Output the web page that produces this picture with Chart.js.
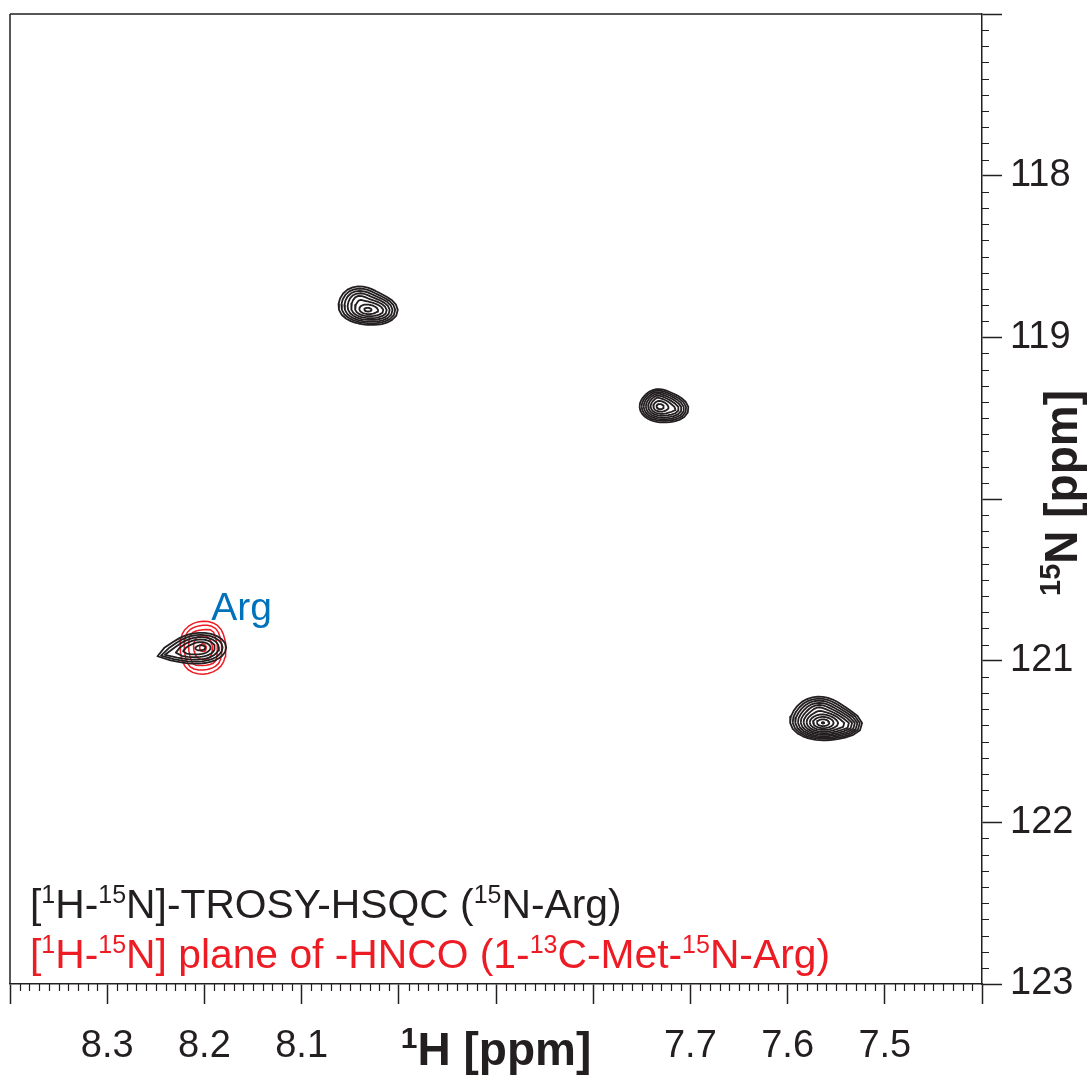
<!DOCTYPE html>
<html>
<head>
<meta charset="utf-8">
<script src="https://cdn.jsdelivr.net/npm/chart.js@4.4.1/dist/chart.umd.min.js"></script>
<style>
  html, body { margin: 0; padding: 0; background: #ffffff; }
  #wrap { width: 1090px; height: 1076px; }
</style>
</head>
<body>
<div id="wrap"><canvas id="spec" width="1090" height="1076"></canvas></div>
<script>
// ---------------------------------------------------------------
// Spectral window (ppm)
const hMin = 7.4, hMax = 8.4;      // 1H, drawn high -> low
const nMin = 117, nMax = 123;      // 15N, drawn low -> high (top -> bottom)

// Axis ticks
const hMajorTicks = [8.4, 8.3, 8.2, 8.1, 8.0, 7.9, 7.8, 7.7, 7.6, 7.5, 7.4];
const hTickLabels = ['', '8.3', '8.2', '8.1', '', '', '', '7.7', '7.6', '7.5', ''];
const nMajorTicks = [117, 118, 119, 120, 121, 122, 123];
const nTickLabels = ['', '118', '119', '', '121', '122', '123'];

// Line-shape exponent of the peak model (1 = Gaussian, smaller = broader wings)
const lineShape = 0.65;

// TROSY-HSQC (15N-Arg): peak maxima
const hsqcPeakH = [8.032, 7.7315, 7.5636, 8.2025];
const hsqcPeakN = [118.830, 119.430, 121.385, 120.918];
// line components building each peak (peak index, shifts, widths, height)
const hsqcCompPeak = [0, 0, 0, 1, 1, 1, 2, 2, 2, 3, 3, 3];
const hsqcCompH    = [8.032, 8.041, 8.018, 7.7315, 7.716, 7.734, 7.5636, 7.540, 7.568, 8.2025, 8.218, 8.238];
const hsqcCompN    = [118.830, 118.760, 118.840, 119.430, 119.445, 119.375, 121.385, 121.400, 121.300, 120.918, 120.940, 120.960];
const hsqcWidthH   = [0.0102, 0.0102, 0.0085, 0.0078, 0.0078, 0.0055, 0.0098, 0.0078, 0.0110, 0.0125, 0.0110, 0.0120];
const hsqcWidthN   = [0.033, 0.046, 0.038, 0.034, 0.035, 0.031, 0.032, 0.028, 0.043, 0.045, 0.035, 0.025];
const hsqcHeight   = [8.0, 3.0, 2.0, 9.0, 3.0, 1.8, 20.0, 3.5, 3.5, 4.5, 1.8, 1.4];
const hsqcLevels   = [1.0, 1.35, 1.82, 2.46, 3.32, 4.48, 6.05, 8.17, 11.0, 14.9, 20.1];

// [1H-15N] plane of HNCO (1-13C-Met-15N-Arg)
const hncoPeakH = [8.2015];
const hncoPeakN = [120.920];
const hncoCompPeak = [0, 0, 0, 0, 0];
const hncoCompH    = [8.2015, 8.193, 8.212, 8.191, 8.211];
const hncoCompN    = [120.920, 120.820, 120.840, 121.000, 121.020];
const hncoWidthH   = [0.0135, 0.0060, 0.0060, 0.0060, 0.0060];
const hncoWidthN   = [0.092, 0.030, 0.030, 0.030, 0.030];
const hncoHeight   = [3.6, 0.45, 0.4, 0.45, 0.4];
const hncoLevels   = [1.0, 1.35, 1.82, 2.46, 3.32];

// ---------------------------------------------------------------
const INK = '#231f20';
const RED = '#ed1c24';
const BLUE = '#0072bc';
const FONT = '"Liberation Sans", Arial, Helvetica, sans-serif';

function intensity(spec, peak, h, n) {
  let s = 0;
  for (let i = 0; i < spec.compPeak.length; i++) {
    if (spec.compPeak[i] !== peak) continue;
    const a = (h - spec.compH[i]) / spec.widthH[i];
    const b = (n - spec.compN[i]) / spec.widthN[i];
    s += spec.height[i] * Math.exp(-Math.pow(0.5 * (a * a + b * b), lineShape));
  }
  return s;
}

// Trace one contour level around a peak maximum by walking rays outwards
function traceContour(spec, peak, level) {
  const h0 = spec.peakH[peak], n0 = spec.peakN[peak];
  const uH = 0.01, uN = 0.06, rays = 32;
  const pts = [];
  for (let k = 0; k < rays; k++) {
    const t = 2 * Math.PI * k / rays;
    const dx = Math.cos(t), dy = Math.sin(t);
    const f = r => intensity(spec, peak, h0 + dx * r * uH, n0 + dy * r * uN);
    let r = 0, step = 0.05;
    while (r < 15 && f(r) >= level) r += step;
    let lo = Math.max(0, r - step), hi = r;
    for (let it = 0; it < 25; it++) {
      const mid = 0.5 * (lo + hi);
      if (f(mid) >= level) lo = mid; else hi = mid;
    }
    const rr = 0.5 * (lo + hi);
    pts.push({ x: h0 + dx * rr * uH, y: n0 + dy * rr * uN });
  }
  pts.push({ x: pts[0].x, y: pts[0].y });
  return pts;
}

function contourDatasets(spec, color, width) {
  const out = [];
  for (let p = 0; p < spec.peakH.length; p++) {
    const top = intensity(spec, p, spec.peakH[p], spec.peakN[p]);
    spec.levels.forEach(lv => {
      if (lv >= top) return;
      out.push({
        data: traceContour(spec, p, lv),
        showLine: true, fill: false, tension: 0,
        borderColor: color, borderWidth: width, borderJoinStyle: 'round',
        pointRadius: 0, pointHoverRadius: 0
      });
    });
  }
  return out;
}

const hsqc = { peakH: hsqcPeakH, peakN: hsqcPeakN, compPeak: hsqcCompPeak, compH: hsqcCompH,
  compN: hsqcCompN, widthH: hsqcWidthH, widthN: hsqcWidthN, height: hsqcHeight, levels: hsqcLevels };
const hnco = { peakH: hncoPeakH, peakN: hncoPeakN, compPeak: hncoCompPeak, compH: hncoCompH,
  compN: hncoCompN, widthH: hncoWidthH, widthN: hncoWidthN, height: hncoHeight, levels: hncoLevels };

const datasets = [
  ...contourDatasets(hsqc, INK, 1.8),
  ...contourDatasets(hnco, RED, 1.5)
];

// Text with superscript runs: parts = [[text, isSup], ...]
function richWidth(ctx, parts, size, weight, supRatio) {
  let w = 0;
  parts.forEach(([t, sup]) => {
    ctx.font = `${weight} ${sup ? Math.round(size * supRatio) : size}px ${FONT}`;
    w += ctx.measureText(t).width;
  });
  return w;
}
function drawRich(ctx, parts, x, y, size, weight, color, supRatio) {
  ctx.fillStyle = color;
  ctx.textBaseline = 'alphabetic';
  ctx.textAlign = 'left';
  let cx = x;
  parts.forEach(([t, sup]) => {
    ctx.font = `${weight} ${sup ? Math.round(size * supRatio) : size}px ${FONT}`;
    ctx.fillText(t, cx, sup ? y - size * 0.36 : y);
    cx += ctx.measureText(t).width;
  });
}

const decorations = {
  id: 'decorations',
  afterDraw(chart) {
    const { ctx, chartArea: a, scales } = chart;
    const xs = scales.x, ys = scales.y;
    ctx.save();
    ctx.strokeStyle = INK;
    ctx.lineWidth = 1.5;
    // frame: top and left edges
    ctx.beginPath();
    ctx.moveTo(a.left, a.top); ctx.lineTo(a.right, a.top);
    ctx.moveTo(a.left, a.top); ctx.lineTo(a.left, a.bottom);
    ctx.stroke();
    // minor ticks
    ctx.lineWidth = 1.2;
    ctx.beginPath();
    for (let i = 1; i < 100; i++) {
      if (i % 10 === 0) continue;
      const px = Math.round(xs.getPixelForValue(hMin + i / 100)) + 0.5;
      ctx.moveTo(px, a.bottom); ctx.lineTo(px, a.bottom + 7);
    }
    for (let i = 1; i < 60; i++) {
      if (i % 10 === 0) continue;
      const py = Math.round(ys.getPixelForValue(nMin + i / 10)) + 0.5;
      ctx.moveTo(a.right, py); ctx.lineTo(a.right + 7, py);
    }
    ctx.stroke();

    // axis titles
    const tSize = 46;
    const xTitle = [['1', true], ['H [ppm]', false]];
    const xw = richWidth(ctx, xTitle, tSize, 'bold', 0.66);
    drawRich(ctx, xTitle, (a.left + a.right) / 2 - xw / 2, 1065, tSize, 'bold', INK, 0.66);

    const yTitle = [['15', true], ['N [ppm]', false]];
    const yw = richWidth(ctx, yTitle, tSize, 'bold', 0.62);
    ctx.save();
    ctx.translate(1077, (a.top + a.bottom) / 2 - 6);
    ctx.rotate(-Math.PI / 2);
    drawRich(ctx, yTitle, -yw / 2, 0, tSize, 'bold', INK, 0.62);
    ctx.restore();

    // spectrum key
    const kSize = 40.8;
    drawRich(ctx, [['[', false], ['1', true], ['H-', false], ['15', true], ['N]-TROSY-HSQC (', false], ['15', true], ['N-Arg)', false]],
      a.left + 20, 918, kSize, 'normal', INK, 0.62);
    drawRich(ctx, [['[', false], ['1', true], ['H-', false], ['15', true], ['N] plane of -HNCO (1-', false], ['13', true], ['C-Met-', false], ['15', true], ['N-Arg)', false]],
      a.left + 20, 968, kSize, 'normal', RED, 0.62);

    // residue label
    ctx.font = `normal 39px ${FONT}`;
    ctx.fillStyle = BLUE;
    ctx.textAlign = 'left';
    ctx.textBaseline = 'alphabetic';
    ctx.fillText('Arg', xs.getPixelForValue(8.193), ys.getPixelForValue(120.75));
    ctx.restore();
  }
};

function noPad(s) { s.paddingTop = 0; s.paddingBottom = 0; s.paddingLeft = 0; s.paddingRight = 0; }

new Chart(document.getElementById('spec'), {
  type: 'scatter',
  data: { datasets },
  options: {
    responsive: false,
    animation: false,
    devicePixelRatio: 1,
    layout: { padding: { left: 10, top: 14, right: 0, bottom: 0 } },
    plugins: { legend: { display: false }, tooltip: { enabled: false } },
    scales: {
      x: {
        type: 'linear', min: hMin, max: hMax, reverse: true, position: 'bottom',
        afterBuildTicks: s => { s.ticks = hMajorTicks.map(v => ({ value: v })); },
        afterFit: s => { s.height = 92; noPad(s); },
        grid: { drawOnChartArea: false, drawTicks: true, tickLength: 20, tickColor: INK, tickWidth: 1.5 },
        border: { display: true, color: INK, width: 1.5 },
        ticks: {
          autoSkip: false, maxRotation: 0, minRotation: 0, padding: 20,
          color: INK, font: { family: FONT, size: 38 },
          callback: (v) => { const i = hMajorTicks.findIndex(t => Math.abs(t - v) < 1e-6); return i >= 0 ? hTickLabels[i] : ''; }
        }
      },
      y: {
        type: 'linear', min: nMin, max: nMax, reverse: true, position: 'right',
        afterBuildTicks: s => { s.ticks = nMajorTicks.map(v => ({ value: v })); },
        afterFit: s => { s.width = 108; noPad(s); },
        grid: { drawOnChartArea: false, drawTicks: true, tickLength: 20, tickColor: INK, tickWidth: 1.5 },
        border: { display: true, color: INK, width: 1.5 },
        ticks: {
          autoSkip: false, padding: 8,
          color: INK, font: { family: FONT, size: 38 },
          callback: (v) => { const i = nMajorTicks.findIndex(t => Math.abs(t - v) < 1e-6); return i >= 0 ? nTickLabels[i] : ''; }
        }
      }
    }
  },
  plugins: [decorations]
});
</script>
</body>
</html>
